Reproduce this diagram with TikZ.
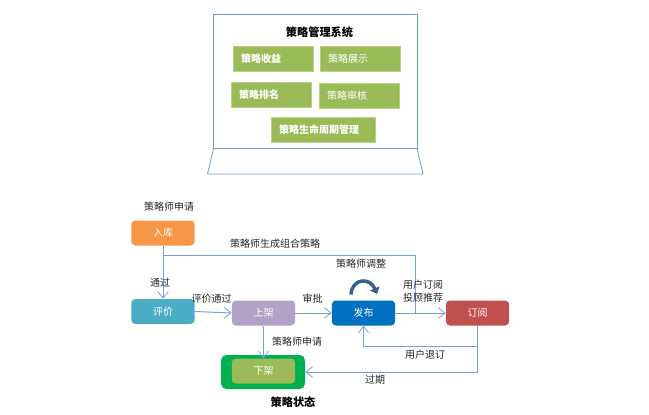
\documentclass[tikz,border=0pt]{standalone}
\usepackage{fontspec}
\setmainfont{Noto Sans CJK SC}
\usetikzlibrary{arrows.meta,calc}
\definecolor{edgeblue}{HTML}{7C9FD3}
\definecolor{framecol}{HTML}{7396CC}
\definecolor{leaf}{HTML}{9BBB59}
\tikzset{
  x=0.75pt,y=-0.75pt,
  txt/.style={font=\fontsize{7.5pt}{9pt}\selectfont,text=black!85,inner sep=0pt},
  boldtxt/.style={font=\fontsize{8.4pt}{10pt}\selectfont\bfseries,text=black,inner sep=0pt},
  gbox/.style={fill=leaf,draw=leaf!70!white,line width=0.4pt,minimum height=18.75pt,inner xsep=6pt,inner ysep=0pt,align=left,text=white,font=\fontsize{7.5pt}{9pt}\selectfont},
  gboxb/.style={gbox,font=\fontsize{7.5pt}{9pt}\selectfont\bfseries},
  state/.style={rounded corners=3pt,minimum width=47.5pt,minimum height=18.75pt,inner sep=0pt,text=white,font=\fontsize{7.5pt}{9pt}\selectfont},
  conn/.style={draw=edgeblue,line width=0.75pt},
  arr/.style={conn,-{Straight Barb[length=5pt,width=8pt,line width=0.6pt]}},
  frameline/.style={draw=framecol,line width=0.6pt}
}
\begin{document}
\begin{tikzpicture}
\useasboundingbox (0,0) rectangle (649,414);
% laptop
\draw[frameline] (213.7,14) rectangle (417,148);
\draw[frameline] (213.7,148) -- (207.5,174) -- (423,174) -- (417,148);
\node[boldtxt] (title) at (319.5,32) {策略管理系统};
\node[gboxb,text width=48pt] (a1) at (273,59) {策略收益};
\node[gbox,text width=48pt] (a2) at (360,59) {策略展示};
\node[gboxb,text width=48pt] (a3) at (271,95) {策略排名};
\node[gbox,text width=48pt] (a4) at (359,95.5) {策略审核};
\node[gboxb,text width=66pt] (a5) at (323,129.5) {策略生命周期管理};
% states
\node[state,fill={rgb,255:red,247;green,150;blue,70}] (ruku) at (163,233) {入库};
\node[state,fill={rgb,255:red,75;green,172;blue,198}] (pingjia) at (163,311.5) {评价};
\node[state,fill={rgb,255:red,178;green,162;blue,199}] (shangjia) at (263.5,313) {上架};
\node[state,fill={rgb,255:red,0;green,112;blue,192}] (fabu) at (363.5,313) {发布};
\node[state,fill={rgb,255:red,192;green,80;blue,77}] (dingyue) at (477.5,313) {订阅};
\node[rounded corners=4pt,fill={rgb,255:red,0;green,176;blue,80},minimum width=63pt,minimum height=25.5pt,inner sep=0pt] (outer) at (263,372) {};
\node[state,fill={rgb,255:red,155;green,187;blue,89}] (xiajia) at (263.5,371) {下架};
% connector waypoints
\coordinate (top1) at (ruku.south |- 0,255);
\coordinate (top2) at (415,255);
\coordinate (top3) at (415,313);
\coordinate (back1) at (dingyue.south |- 0,346);
\coordinate (back2) at (fabu.south |- 0,346);
\coordinate (exp1) at (dingyue.south |- 0,372);
% connectors
\draw[arr] (ruku.south) -- (pingjia.north);
\draw[conn] (top1) -- (top2) -- (top3);
\draw[arr] (pingjia.east) -- (shangjia.west);
\draw[arr] (shangjia.east) -- (fabu.west);
\draw[arr] (fabu.east) -- (dingyue.west);
\draw[arr] (shangjia.south) -- (xiajia.north);
\draw[arr] (dingyue.south) -- (back1) -- (back2) -- (fabu.south);
\draw[arr] (back1) -- (exp1) -- (outer.east |- exp1);
% curved arrow
\coordinate (c1) at (351,294.5);
\coordinate (c2) at (377,294);
\draw[line width=2.6pt,draw={rgb,255:red,54;green,96;blue,146},-{Triangle[length=4.5pt,width=7.5pt]}] (c1) .. controls (352,278) and (370,277) .. (c2);
% labels
\node[txt] (l1) at (169,206.5) {策略师申请};
\node[txt] (l2) at (275,244) {策略师生成组合策略};
\node[txt] (l3) at (160,283) {通过};
\node[txt] (l4) at (211.5,298.5) {评价通过};
\node[txt] (l5) at (312.5,298.5) {审批};
\node[txt] (l6) at (361,264) {策略师调整};
\node[txt] (l7) at (423,284.5) {用户订阅};
\node[txt] (l8) at (423,297.5) {投顾推荐};
\node[txt] (l9) at (297,341.5) {策略师申请};
\node[txt] (l10) at (425,354.5) {用户退订};
\node[txt] (l11) at (375,380) {过期};
\node[boldtxt] (l12) at (293,402.5) {策略状态};
\end{tikzpicture}
\end{document}
